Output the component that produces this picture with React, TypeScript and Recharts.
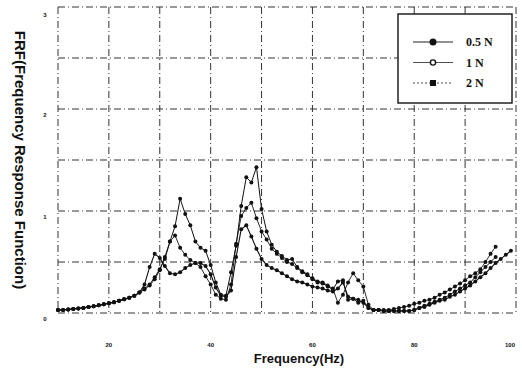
import { CartesianGrid, Line, LineChart, XAxis, YAxis } from 'recharts'

const frequencies = Array.from({ length: 90 }, (_, i) => 10 + i)

const lowRange = [0.03, 0.03, 0.035, 0.04, 0.045, 0.05, 0.06, 0.065, 0.075, 0.085, 0.095, 0.105, 0.12, 0.135, 0.15, 0.17, 0.2]

const force05 = [
  ...lowRange,
  0.24, 0.28, 0.35, 0.43, 0.53, 0.7, 0.85, 1.12, 0.97, 0.86,
  0.7, 0.64, 0.61, 0.47, 0.3, 0.18, 0.17, 0.4, 0.66, 1.05,
  1.33, 1.28, 1.43, 1.02, 0.8, 0.67, 0.6, 0.56, 0.52, 0.53,
  0.45, 0.41, 0.38, 0.33, 0.3, 0.29, 0.26, 0.23, 0.31, 0.32,
  0.13, 0.14, 0.1, 0.12, 0.05, 0.03, 0.03, 0.02, 0.02, 0.02,
  0.02, 0.02, 0.02, 0.03, 0.05, 0.07, 0.09, 0.11, 0.13, 0.15,
  0.18, 0.21, 0.24, 0.27, 0.3, 0.35, 0.4, 0.45, 0.5, 0.55,
  null, null, null,
]

const force1 = [
  ...lowRange,
  0.23, 0.27, 0.33, 0.42, 0.55, 0.7, 0.76, 0.64, 0.57, 0.52,
  0.49, 0.45, 0.36, 0.28, 0.18, 0.14, 0.13, 0.28, 0.68, 0.95,
  1.03, 1.08, 0.93, 0.8, 0.72, 0.63, 0.58, 0.54, 0.5, 0.48,
  0.44, 0.4, 0.37, 0.34, 0.31, 0.3, 0.27, 0.24, 0.1, 0.18,
  0.3, 0.39, 0.32, 0.26, 0.08, 0.03, 0.03, 0.03, 0.03, 0.04,
  0.05, 0.06, 0.07, 0.09, 0.1, 0.12, 0.13, 0.15, 0.18, 0.2,
  0.23, 0.26, 0.29, 0.32, 0.36, 0.39, 0.43, 0.5, 0.58, 0.65,
  null, null, null,
]

const force2 = [
  ...lowRange,
  0.28, 0.45, 0.58, 0.54, 0.46, 0.39, 0.38, 0.4, 0.44, 0.47,
  0.49, 0.49, 0.46, 0.38, 0.25, 0.17, 0.16, 0.22, 0.55, 0.82,
  0.86, 0.75, 0.63, 0.53, 0.47, 0.44, 0.42, 0.39, 0.36, 0.33,
  0.31, 0.3, 0.28, 0.26, 0.25, 0.24, 0.22, 0.21, 0.24, 0.3,
  0.16, 0.14, 0.13, 0.1, 0.05, 0.03, 0.03, 0.02, 0.02, 0.02,
  0.02, 0.02, 0.02, 0.03, 0.05, 0.06, 0.08, 0.1, 0.12, 0.13,
  0.16, 0.18, 0.21, 0.24, 0.27, 0.31, 0.35, 0.39, 0.44, 0.49,
  0.53, 0.57, 0.61,
]

const xTicks = [10, 20, 30, 40, 50, 60, 70, 80, 90, 100]
const xLabels = [20, 40, 60, 80, 100]
const yTicks = [0, 0.5, 1, 1.5, 2, 2.5, 3]
const yLabels = [0, 1, 2, 3]
const legendRows = ['0.5 N', '1 N', '2 N']

const data = frequencies.map((f, i) => ({
  f,
  a: force05[i],
  b: force1[i],
  c: force2[i],
}))

const tickFont = { fontFamily: 'Liberation Sans, Arial, sans-serif', fontSize: 6, fontWeight: 700 }

function XTick({ x, y, payload }: any) {
  if (!xLabels.includes(payload.value)) return null
  return (
    <text x={x} y={y + 26} textAnchor="middle" fill="#111" style={tickFont}>
      {payload.value}
    </text>
  )
}

function YTick({ x, y, payload }: any) {
  if (!yLabels.includes(payload.value)) return null
  return (
    <text x={x - 5} y={y + 8} textAnchor="middle" fill="#111" style={tickFont}>
      {payload.value}
    </text>
  )
}

// drawn by hand, the scanned legend has three different line/marker styles
function LegendBox() {
  return (
    <svg width={116} height={91} style={{ position: 'absolute', left: 397, top: 13 }}>
      <rect x={1} y={1} width={114} height={89} fill="#fff" stroke="#222" strokeWidth={1.5} />
      {legendRows.map((label, i) => {
        const cy = 29 + i * 20.5
        return (
          <g key={label}>
            <line x1={16} x2={56} y1={cy} y2={cy} stroke="#222" strokeWidth={i === 0 ? 1 : 0.8} strokeDasharray={i === 2 ? '2 2' : undefined} />
            {i === 0 && <circle cx={36} cy={cy} r={3.5} fill="#111" />}
            {i === 1 && <circle cx={36} cy={cy} r={2.6} fill="#fff" stroke="#111" strokeWidth={1.4} />}
            {i === 2 && <rect x={33} y={cy - 3} width={6} height={6} fill="#111" />}
            <text x={69} y={cy + 4} fill="#111" style={{ fontFamily: 'Liberation Serif, Times New Roman, serif', fontSize: 12, fontWeight: 700 }}>
              {label}
            </text>
          </g>
        )
      })}
    </svg>
  )
}

export default function App() {
  return (
    <div style={{ position: 'absolute', left: 0, top: 0, width: 522, height: 374, background: '#fff' }}>
      <LineChart width={522} height={374} data={data} margin={{ top: 7, right: 6, bottom: 0, left: 0 }}>
        <CartesianGrid stroke="#333" strokeDasharray="7 3 1 3" />
        <XAxis
          dataKey="f"
          type="number"
          domain={[10, 100]}
          ticks={xTicks}
          height={61}
          axisLine={false}
          tickLine={false}
          tick={<XTick />}
          label={{
            value: 'Frequency(Hz)',
            position: 'insideBottom',
            offset: 11,
            dx: 12,
            style: { fontFamily: 'Liberation Sans, Arial, sans-serif', fontSize: 13, fontWeight: 700, fill: '#111' },
          }}
        />
        <YAxis
          type="number"
          domain={[0, 3]}
          ticks={yTicks}
          width={58}
          axisLine={false}
          tickLine={false}
          tick={<YTick />}
          label={{
            value: 'FRF(Frequency Response Function)',
            angle: 90,
            position: 'insideLeft',
            offset: 20,
            style: { fontFamily: 'Liberation Sans, Arial, sans-serif', fontSize: 15, fontWeight: 700, fill: '#111', textAnchor: 'middle' },
          }}
        />
        <Line dataKey="a" name="0.5 N" stroke="#111" strokeWidth={1} dot={{ r: 2, fill: '#111', stroke: 'none' }} isAnimationActive={false} />
        <Line dataKey="b" name="1 N" stroke="#111" strokeWidth={0.9} dot={{ r: 2, fill: '#111', stroke: 'none' }} isAnimationActive={false} />
        <Line dataKey="c" name="2 N" stroke="#111" strokeWidth={1.1} dot={{ r: 2, fill: '#111', stroke: 'none' }} isAnimationActive={false} />
      </LineChart>
      <LegendBox />
    </div>
  )
}
